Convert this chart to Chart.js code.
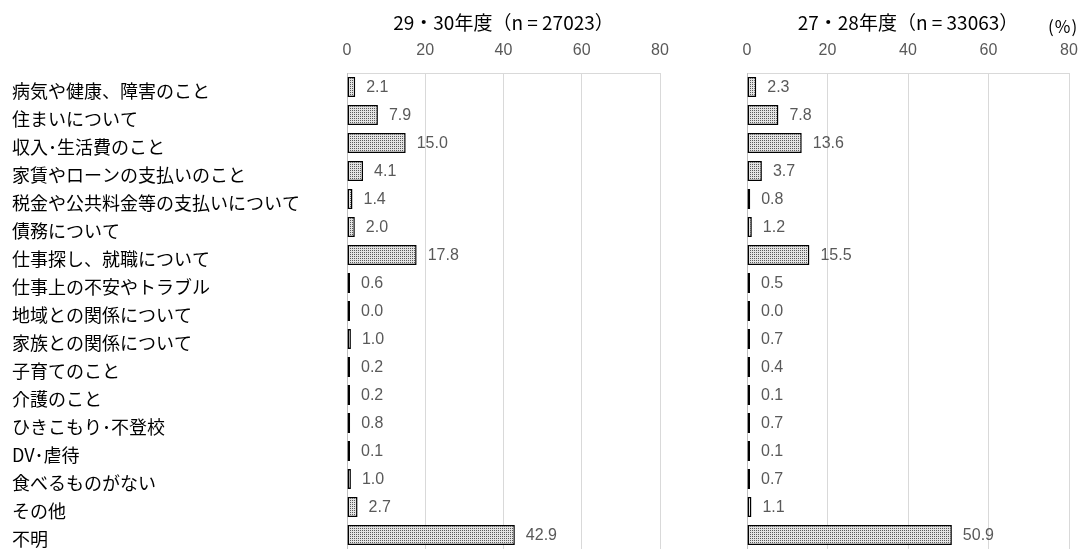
<!DOCTYPE html>
<html lang="ja">
<head>
<meta charset="utf-8">
<script src="https://cdn.jsdelivr.net/npm/chart.js@4/dist/chart.umd.min.js"></script>
<style>
  body { margin: 0; background: #fff; }
  #wrap { position: relative; width: 1086px; height: 549px; overflow: hidden; }
  canvas { position: absolute; top: 0; }
  #leftChart { left: 0; }
  #rightChart { left: 700px; }
  #unit { position: absolute; left: 1048px; top: 13px; font: 17px "Noto Sans CJK JP"; color: #000; letter-spacing: 1px; }
</style>
</head>
<body>
<div id="wrap">
  <canvas id="leftChart" width="690" height="549"></canvas>
  <canvas id="rightChart" width="386" height="549"></canvas>
  <div id="unit">(%)</div>
</div>
<script>
'use strict';
// ---------------------- Data -----------------
const categories = [
  '病気や健康、障害のこと', '住まいについて', '収入･生活費のこと', '家賃やローンの支払いのこと',
  '税金や公共料金等の支払いについて', '債務について', '仕事探し、就職について', '仕事上の不安やトラブル',
  '地域との関係について', '家族との関係について', '子育てのこと', '介護のこと',
  'ひきこもり･不登校', 'DV･虐待', '食べるものがない', 'その他', '不明'
];
const values2930 = [2.1, 7.9, 15.0, 4.1, 1.4, 2.0, 17.8, 0.6, 0.0, 1.0, 0.2, 0.2, 0.8, 0.1, 1.0, 2.7, 42.9];
const values2728 = [2.3, 7.8, 13.6, 3.7, 0.8, 1.2, 15.5, 0.5, 0.0, 0.7, 0.4, 0.1, 0.7, 0.1, 0.7, 1.1, 50.9];
const xTicks = [0, 20, 40, 60, 80];
const title2930 = '29・30年度（n = 27023）';
const title2728 = '27・28年度（n = 33063）';

// ---------------------- Helpers -----------------
function makeDotPattern() {
  const c = document.createElement('canvas');
  c.width = 2;
  c.height = 2;
  const g = c.getContext('2d');
  g.fillStyle = '#e4e4e4';
  g.fillRect(0, 0, 2, 2);
  g.fillStyle = '#5a5a5a';
  g.fillRect(0, 0, 1, 1);
  return g.createPattern(c, 'repeat');
}

// draws the number to the right of each bar
const valueLabels = {
  id: 'valueLabels',
  afterDatasetsDraw(chart) {
    const ctx = chart.ctx;
    const meta = chart.getDatasetMeta(0);
    const data = chart.data.datasets[0].data;
    ctx.save();
    ctx.font = '16px "Liberation Sans"';
    ctx.fillStyle = '#595959';
    ctx.textAlign = 'left';
    ctx.textBaseline = 'middle';
    meta.data.forEach((bar, i) => {
      const x = Math.max(bar.x, bar.base);
      ctx.fillText(data[i].toFixed(1), x + 11, bar.y + 1);
    });
    ctx.restore();
  }
};

function makeChart(canvasId, values, title, showLabels) {
  const ctx = document.getElementById(canvasId).getContext('2d');
  return new Chart(ctx, {
    type: 'bar',
    data: {
      labels: categories,
      datasets: [{
        data: values,
        backgroundColor: makeDotPattern(),
        borderColor: '#000',
        borderWidth: 1.5,
        borderSkipped: false,
        minBarLength: 3,
        barPercentage: 0.72,
        categoryPercentage: 1
      }]
    },
    options: {
      indexAxis: 'y',
      responsive: false,
      animation: false,
      layout: { padding: { left: showLabels ? 12 : 0, right: showLabels ? 30 : 17, top: 0, bottom: 0 } },
      plugins: {
        legend: { display: false },
        tooltip: { enabled: false },
        title: {
          display: true,
          text: title,
          fullSize: false,
          color: '#000',
          font: { family: '"Noto Sans CJK JP"', size: 19, weight: 'normal', lineHeight: 1.2 },
          padding: { top: 11, bottom: 4 }
        }
      },
      scales: {
        x: {
          position: 'top',
          min: 0,
          max: 80,
          afterBuildTicks: (scale) => { scale.ticks = xTicks.map(v => ({ value: v })); },
          afterFit: (scale) => {
            scale.height = 73 - 37.8;
            scale.paddingLeft = 0;
            scale.paddingRight = 0;
          },
          ticks: {
            color: '#595959',
            padding: 13,
            font: { family: '"Liberation Sans"', size: 16 }
          },
          grid: { color: '#d9d9d9', lineWidth: 1, drawTicks: false },
          border: { display: true, color: '#d9d9d9' }
        },
        y: {
          afterFit: (scale) => {
            scale.width = showLabels ? 335 : 47;
            scale.paddingTop = 0;
            scale.paddingBottom = 0;
          },
          ticks: {
            display: showLabels,
            crossAlign: 'far',
            labelOffset: 4,
            color: '#000',
            autoSkip: false,
            font: { family: '"Noto Sans CJK JP"', size: 18 }
          },
          grid: { display: false },
          border: { display: true, color: '#bfbfbf' }
        }
      }
    },
    plugins: [valueLabels]
  });
}

makeChart('leftChart', values2930, title2930, true);
makeChart('rightChart', values2728, title2728, false);
</script>
</body>
</html>
